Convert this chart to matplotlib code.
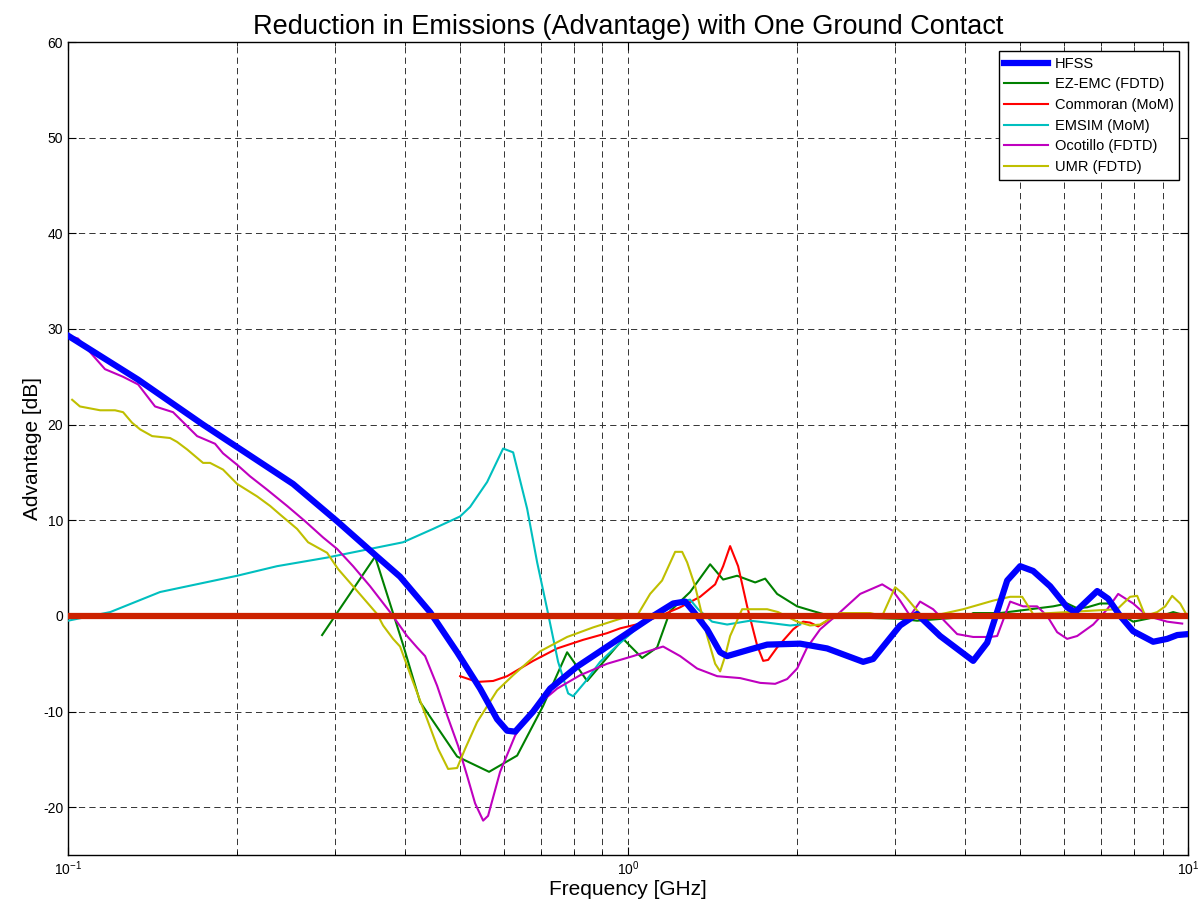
import numpy as np
import matplotlib
matplotlib.use("Agg")
import matplotlib.pyplot as plt
from matplotlib.ticker import LogLocator, NullFormatter, FixedLocator

#****************Data***********************************************
hfss_f = [0.1, 0.1334, 0.1742, 0.2522, 0.3023, 0.3563, 0.3916, 0.443, 0.4951, 0.5442,
          0.5836, 0.6081, 0.6285, 0.6768, 0.7258, 0.8109, 0.8913, 1.0207, 1.1082, 1.2034,
          1.2643, 1.3064, 1.3838, 1.4599, 1.5025, 1.6517, 1.7712, 2.0285, 2.2666, 2.6283,
          2.7384, 3.0594, 3.2807, 3.6064, 4.1317, 4.3766, 4.7515, 5.0119, 5.2864, 5.6701,
          6.08, 6.2834, 6.88, 7.196, 7.561, 7.976, 8.66, 9.173, 9.56, 10.0]
hfss_v = [29.3, 24.7, 20.0, 13.8, 9.9, 6.2, 4.1, 0.4, -3.8, -7.6,
          -10.8, -12.0, -12.1, -10.0, -7.6, -5.3, -3.7, -1.4, 0.0, 1.3,
          1.5, 0.5, -1.4, -3.8, -4.2, -3.5, -3.0, -2.9, -3.4, -4.8,
          -4.5, -1.0, 0.2, -2.1, -4.7, -2.8, 3.7, 5.2, 4.7, 3.1,
          0.9, 0.4, 2.6, 1.8, 0.0, -1.6, -2.7, -2.4, -2.0, -1.9]

ezemc_f = [0.2842, 0.3534, 0.3964, 0.4252, 0.4951, 0.5646, 0.6337, 0.7052, 0.7782, 0.845,
           0.9797, 1.0593, 1.1265, 1.1885, 1.2903, 1.401, 1.478, 1.5654, 1.686, 1.7568,
           1.8453, 2.0036, 2.1398, 2.3234, 3.0594, 3.2807, 4.0313, 4.1317, 4.6166, 5.74,
           6.08, 6.336, 6.601, 6.966, 7.346, 7.561, 7.976, 8.45, 9.173, 9.402, 9.959]
ezemc_v = [-2.0, 6.2, -3.0, -9.0, -14.7, -16.3, -14.6, -9.4, -3.8, -6.8,
           -2.4, -4.4, -3.3, 0.5, 2.5, 5.4, 3.8, 4.2, 3.5, 3.9,
           2.3, 1.0, 0.5, -0.1, -0.3, -0.5, -0.1, 0.3, 0.3, 1.0,
           1.3, 0.8, 0.9, 1.3, 1.3, 0.2, -0.6, -0.3, 0.2, 0.4, 0.0]

commoran_f = [0.5012, 0.5375, 0.5741, 0.6081, 0.6768, 0.7469, 0.8312, 0.9173, 0.9677, 1.0506,
              1.1404, 1.2385, 1.3445, 1.4302, 1.478, 1.521, 1.5719, 1.6313, 1.7, 1.7425,
              1.7783, 1.8453, 1.971, 2.0535, 2.1135, 2.1842, 2.2949, 2.421]
commoran_v = [-6.3, -6.9, -6.8, -6.3, -4.7, -3.4, -2.5, -1.8, -1.3, -0.8,
              0.0, 0.9, 2.0, 3.3, 5.2, 7.3, 5.2, 1.0, -3.1, -4.7,
              -4.6, -3.3, -1.4, -0.6, -0.7, -1.1, -0.3, 0.0]

emsim_f = [0.1, 0.1189, 0.146, 0.2004, 0.2361, 0.2901, 0.3964, 0.4486, 0.5012, 0.5223,
           0.5601, 0.5982, 0.6233, 0.6603, 0.688, 0.7169, 0.7499, 0.7815, 0.7977, 0.8381,
           0.8913, 0.956, 1.0506, 1.1404, 1.2385, 1.2903, 1.3335, 1.4125, 1.5025, 1.6517,
           1.7712, 1.9468, 2.0285]
emsim_v = [-0.5, 0.4, 2.5, 4.2, 5.2, 6.1, 7.7, 9.1, 10.4, 11.4,
           14.0, 17.5, 17.1, 11.2, 5.6, 0.7, -4.8, -8.1, -8.4, -6.9,
           -4.8, -3.1, -1.0, 0.2, 1.5, 1.7, 0.7, -0.6, -0.9, -0.5,
           -0.7, -1.0, -0.9]

ocotillo_f = [0.1, 0.1042, 0.1164, 0.1254, 0.1334, 0.143, 0.154, 0.17, 0.183, 0.1891,
              0.2004, 0.2113, 0.2267, 0.2461, 0.265, 0.2854, 0.3023, 0.3228, 0.3462, 0.3758,
              0.403, 0.42, 0.434, 0.456, 0.4752, 0.4972, 0.5158, 0.5331, 0.551, 0.5623,
              0.5908, 0.6285, 0.6768, 0.7469, 0.821, 0.9173, 1.0207, 1.1546, 1.2385, 1.3281,
              1.442, 1.5849, 1.721, 1.8302, 1.9229, 2.0036, 2.0875, 2.2024, 2.3912, 2.5962,
              2.8422, 2.973, 3.0594, 3.1876, 3.3213, 3.5041, 3.8684, 4.1317, 4.4306, 4.56,
              4.81, 5.0742, 5.3746, 5.6, 5.835, 6.08, 6.336, 6.768, 7.17, 7.499,
              7.976, 8.45, 9.173, 9.757]
ocotillo_v = [29.3, 29.0, 25.8, 25.0, 24.2, 21.9, 21.3, 18.8, 18.0, 17.0,
              15.8, 14.6, 13.2, 11.5, 9.9, 8.2, 7.0, 5.2, 3.1, 0.4,
              -2.1, -3.3, -4.2, -7.3, -10.4, -13.6, -16.7, -19.6, -21.4, -20.9,
              -16.3, -12.5, -9.7, -7.6, -6.2, -5.0, -4.2, -3.2, -4.2, -5.5,
              -6.3, -6.5, -7.0, -7.1, -6.6, -5.5, -3.3, -1.4, 0.4, 2.3,
              3.3, 2.6, 1.6, 0.0, 1.5, 0.7, -1.9, -2.2, -2.2, -2.1,
              1.5, 1.0, 1.0, 0.0, -1.7, -2.4, -2.1, -0.9, 0.7, 2.3,
              1.3, 0.0, -0.6, -0.8]

umr_f = [0.1017, 0.105, 0.1141, 0.1213, 0.1254, 0.1301, 0.1345, 0.1413, 0.1521, 0.1565,
         0.1632, 0.1742, 0.1793, 0.1891, 0.2004, 0.2175, 0.2295, 0.2391, 0.2564, 0.2683,
         0.2901, 0.3035, 0.3228, 0.3563, 0.3652, 0.3805, 0.3916, 0.4131, 0.4376, 0.4579,
         0.4771, 0.4951, 0.5116, 0.5375, 0.5836, 0.6233, 0.6966, 0.7782, 0.866, 0.9677,
         1.042, 1.0946, 1.1498, 1.2133, 1.2488, 1.2747, 1.3172, 1.3838, 1.4302, 1.4599,
         1.4902, 1.521, 1.598, 1.7712, 1.8529, 2.0036, 2.1135, 2.2024, 2.3234, 2.3912,
         2.705, 2.8422, 2.9976, 3.0976, 3.3213, 3.5041, 3.965, 4.486, 4.81, 5.0534,
         5.2864, 6.08, 7.468, 7.877, 8.109, 8.381, 8.803, 9.099, 9.363, 9.677, 9.959]
umr_v = [22.6, 21.9, 21.5, 21.5, 21.3, 20.2, 19.5, 18.8, 18.6, 18.2,
         17.4, 16.0, 16.0, 15.3, 13.8, 12.5, 11.5, 10.6, 9.1, 7.7,
         6.6, 4.9, 3.1, 0.2, -1.0, -2.4, -3.2, -6.9, -10.8, -13.9,
         -16.0, -15.9, -13.9, -11.1, -7.8, -6.2, -3.7, -2.2, -1.2, -0.3,
         0.2, 2.3, 3.7, 6.7, 6.7, 5.6, 3.1, -2.1, -5.0, -5.8,
         -4.2, -2.1, 0.7, 0.7, 0.4, -0.6, -1.0, -0.9, -0.1, 0.3,
         0.3, 0.0, 3.0, 2.3, 0.2, 0.0, 0.7, 1.6, 2.0, 2.0,
         0.2, 0.4, 0.7, 2.0, 2.1, 0.0, 0.4, 1.0, 2.1, 1.3, 0.0]

ref_f = [0.1, 10.0]
ref_v = [0.0, 0.0]

labels = ["HFSS", "EZ-EMC (FDTD)", "Commoran (MoM)", "EMSIM (MoM)", "Ocotillo (FDTD)", "UMR (FDTD)"]
y_ticks = [-20, -10, 0, 10, 20, 30, 40, 50, 60]

#****************Plot**********************
plt.rcParams['font.family'] = ['Liberation Sans', 'DejaVu Sans']
plt.rcParams['lines.scale_dashes'] = False
plt.rcParams['axes.unicode_minus'] = False

fig = plt.figure(figsize=(11.98, 9.10), dpi=100)
ax = fig.add_axes([0.0568, 0.0604, 0.935, 0.8934])

ax.plot(hfss_f, hfss_v, color="#0000ff", lw=4.5, label=labels[0], zorder=4)
ax.plot(ezemc_f, ezemc_v, color="#008000", lw=1.5, label=labels[1], zorder=3)
ax.plot(commoran_f, commoran_v, color="#ff0000", lw=1.5, label=labels[2], zorder=3)
ax.plot(emsim_f, emsim_v, color="#00bfbf", lw=1.5, label=labels[3], zorder=3)
ax.plot(ocotillo_f, ocotillo_v, color="#bf00bf", lw=1.5, label=labels[4], zorder=3)
ax.plot(umr_f, umr_v, color="#bfbf00", lw=1.5, label=labels[5], zorder=3)
ax.plot(ref_f, ref_v, color="#cc2200", lw=4.5, zorder=5)

ax.set_xscale("log")
ax.set_xlim(0.1, 10)
ax.set_ylim(-25, 60)
ax.yaxis.set_major_locator(FixedLocator(y_ticks))
ax.xaxis.set_major_locator(LogLocator(base=10, numticks=10))
ax.xaxis.set_minor_locator(LogLocator(base=10, subs=np.arange(2, 10), numticks=20))
ax.xaxis.set_minor_formatter(NullFormatter())

ax.grid(True, which="both", axis="x", color="0.2", linestyle=(0, (4.5, 3)), lw=0.7)
ax.grid(True, which="major", axis="y", color="0.2", linestyle=(0, (4.5, 3)), lw=0.7)
ax.set_axisbelow(True)

ax.tick_params(which="both", direction="in", top=True, right=True, labelsize=10)
ax.tick_params(which="major", length=6)
ax.tick_params(which="minor", length=3)
for s in ax.spines.values():
    s.set_linewidth(1.0)

ax.set_title("Reduction in Emissions (Advantage) with One Ground Contact", fontsize=19.5, pad=6)
ax.set_xlabel("Frequency [GHz]", fontsize=15, labelpad=1)
ax.set_ylabel("Advantage [dB]", fontsize=15, labelpad=1)

leg = ax.legend(loc="upper right", fontsize=10.5, fancybox=False, edgecolor="black",
                framealpha=1, handlelength=3.0, handletextpad=0.45, borderaxespad=0.6,
                labelspacing=0.46)
leg.get_frame().set_linewidth(1.0)

fig.savefig("out.png", dpi=100)
